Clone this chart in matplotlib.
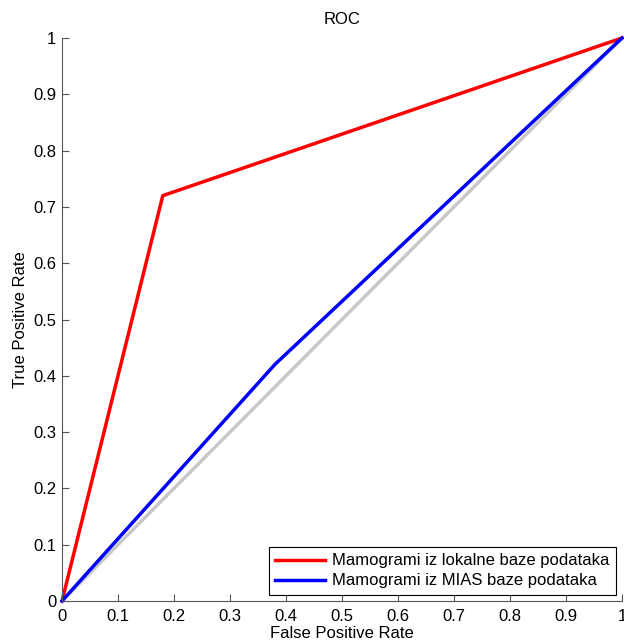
import matplotlib
matplotlib.use('Agg')
import matplotlib.pyplot as plt

plt.rcParams['font.family'] = ['Liberation Sans', 'DejaVu Sans']

# ROC points
fpr_local = [0.0, 0.18, 1.0]
tpr_local = [0.0, 0.72, 1.0]
fpr_mias = [0.0, 0.38, 1.0]
tpr_mias = [0.0, 0.42, 1.0]
chance = [0.0, 1.0]
ticks = [0, 0.1, 0.2, 0.3, 0.4, 0.5, 0.6, 0.7, 0.8, 0.9, 1]
tick_labels = ['0', '0.1', '0.2', '0.3', '0.4', '0.5', '0.6', '0.7', '0.8', '0.9', '1']

fig = plt.figure(figsize=(6.24, 6.43), dpi=100)
ax = fig.add_axes([62 / 624, 42 / 643, 560 / 624, 563 / 643])

ax.plot(chance, chance, color='#c8c8c8', lw=2.5, clip_on=False)
ax.plot(fpr_local, tpr_local, color='red', lw=2.5, clip_on=False,
        label='Mamogrami iz lokalne baze podataka')
ax.plot(fpr_mias, tpr_mias, color='blue', lw=2.5, clip_on=False,
        label='Mamogrami iz MIAS baze podataka')

ax.set_xlim(0, 1)
ax.set_ylim(0, 1)
ax.set_xticks(ticks)
ax.set_xticklabels(tick_labels)
ax.set_yticks(ticks)
ax.set_yticklabels(tick_labels)
ax.tick_params(direction='in', length=5, labelsize=12, colors='#555555',
               labelcolor='black', pad=4)
ax.tick_params(axis='x', pad=6)
for side in ['top', 'right']:
    ax.spines[side].set_visible(False)
for side in ['left', 'bottom']:
    ax.spines[side].set_color('#555555')

ax.set_xlabel('False Positive Rate', fontsize=12, labelpad=1)
ax.set_ylabel('True Positive Rate', fontsize=12, labelpad=4)
ax.set_title('ROC', fontsize=12, pad=10)

leg = ax.legend(loc='lower right', fontsize=12, fancybox=False,
                framealpha=1, edgecolor='black', handlelength=3.0,
                borderaxespad=0.35, handletextpad=0.4, labelspacing=0.3,
                borderpad=0.4)
leg.get_frame().set_linewidth(0.8)

fig.savefig('out.png', dpi=100)
